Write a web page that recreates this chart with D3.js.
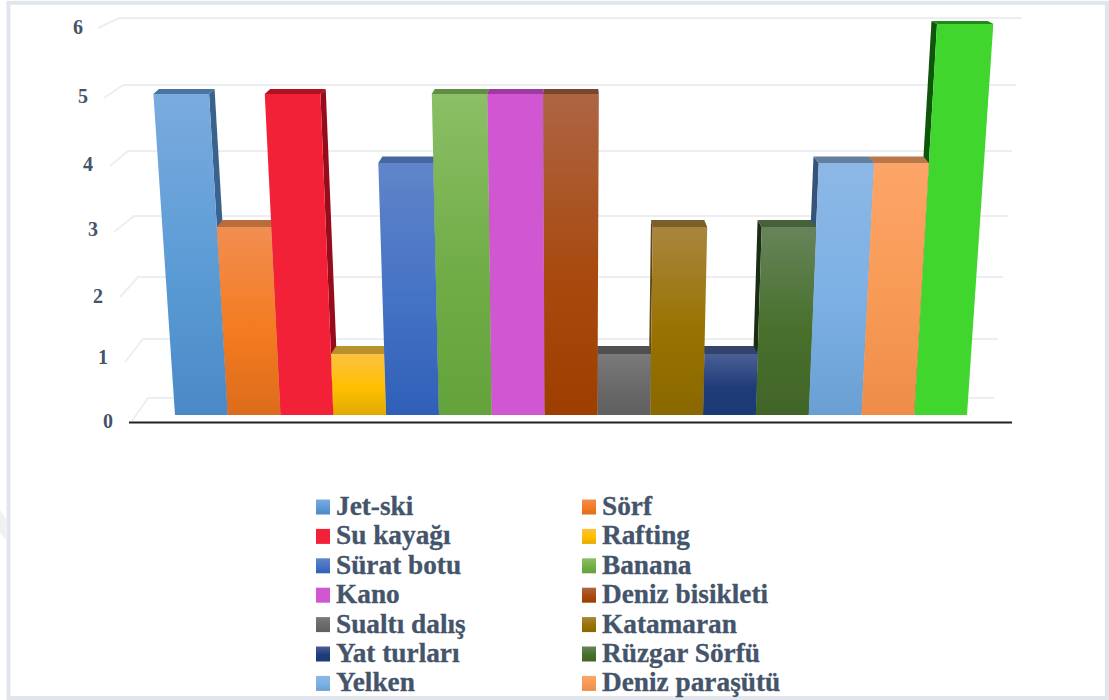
<!DOCTYPE html>
<html>
<head>
<meta charset="utf-8">
<script src="https://cdn.jsdelivr.net/npm/d3@7"></script>
<style>
  html, body { margin: 0; padding: 0; background: #fff; overflow: hidden; }
  svg { display: block; }
  text { font-family: "Liberation Serif", serif; font-weight: bold; fill: #44546a; }
</style>
</head>
<body>
<div id="app"></div>
<script>

// Data
const categories = ['Jet-ski', 'Sörf', 'Su kayağı', 'Rafting', 'Sürat botu', 'Banana', 'Kano',
  'Deniz bisikleti', 'Sualtı dalış', 'Katamaran', 'Yat turları', 'Rüzgar Sörfü', 'Yelken', 'Deniz paraşütü', '']
const values = [5, 3, 5, 1, 4, 5, 5, 5, 1, 3, 1, 3, 4, 4, 6]
const tickValues = [0, 1, 2, 3, 4, 5, 6]

// gradient of each bar front: top, middle, bottom
const frontColors = [
  ['#7aabdf', '#5b9bd5', '#4a89c6'], ['#f18e52', '#f47b20', '#dc6c1c'], ['#f32138', '#f32138', '#f32138'],
  ['#fdc040', '#ffc000', '#e2aa00'], ['#6085c9', '#4472c4', '#2f5fb8'], ['#8cbf66', '#70ad47', '#64a23c'],
  ['#d056d2', '#d056d2', '#d056d2'], ['#ad6544', '#a94a10', '#9e3e00'], ['#7a7a7a', '#696969', '#606060'],
  ['#a9853f', '#997300', '#8a6800'], ['#4a5f94', '#1f3c78', '#1b3a76'], ['#66845a', '#48702c', '#416528'],
  ['#8cb8e6', '#7cb0e4', '#699fd2'], ['#fda468', '#f79a55', '#ee8c48'], ['#41d62d', '#41d62d', '#41d62d'],
]
const topColors = ['#4a74a0', '#b96c3c', '#b01224', '#b8902c', '#46679f', '#5f8f42', '#a03aa0',
  '#7a4630', '#505050', '#7a6028', '#34436e', '#46603a', '#627f9f', '#b9774c', '#1f8a18']
const sideColors = ['#39628c', '#a85c30', '#960c1a', '#a07a20', '#3b5a9a', '#4f7a34', '#8a308a',
  '#6a3a20', '#3a3a3a', '#5e481a', '#1c2c50', '#1a2c14', '#36537a', '#a06a40', '#0d560a']

//
// Constants
//
const width = 1109
const height = 700
const centerX = 571
const legendCols = [316, 582]
const legendRows = d3.range(7).map(i => 499.5 + i * 29.4)

//
// Scales
//
const xBase = d3.scaleBand().domain(d3.range(values.length)).range([175, 967])
// value axis is foreshortened, so these are read per tick from the picture
const yFront = d3.scaleLinear().domain(tickValues).range([415, 354, 291, 227, 163, 94, 24])
const yBack = d3.scaleLinear().domain(tickValues).range([398, 339, 277, 216, 151, 85, 18])
const topDepth = d3.scaleLinear().domain(tickValues).range([9, 8, 7.5, 7, 6.5, 5, 3])
const gridLeft = d3.scaleLinear().domain(tickValues).range([148, 143, 138, 134, 128, 123, 119])
const gridRight = d3.scaleLinear().domain(tickValues).range([994, 998, 1003, 1008, 1012, 1016, 1022])
const tickFrontX = d3.scaleLinear().domain(tickValues).range([132, 125, 120, 114, 110, 104, 98])
const tickFrontY = d3.scaleLinear().domain(tickValues).range([421, 362, 297, 232, 166, 98, 28])
const labelX = d3.scaleLinear().domain(tickValues).range([108, 103, 98, 93, 88, 83, 78])
const labelY = d3.scaleLinear().domain(tickValues).range([428, 364, 303, 236, 171, 103, 34])

// bars lean outwards the higher they are
const lean = (x, y) => centerX + (x - centerX) * (1 + (415 - y) * 0.00017)
// how far the back of a bar moves towards the centre
const shift = x => Math.sign(centerX - x) * Math.min(5.5, Math.abs(x - centerX) / 45)
const poly = pts => 'M' + pts.map(p => p.join(',')).join('L') + 'Z'

//
// Chart
//
const svg = d3.select('#app').append('svg')
  .attr('width', width)
  .attr('height', height)

const defs = svg.append('defs')
frontColors.forEach((c, i) => {
  const g = defs.append('linearGradient').attr('id', `front${i}`)
    .attr('x1', 0).attr('y1', 0).attr('x2', 0).attr('y2', 1)
  g.selectAll('stop').data(c).join('stop')
    .attr('offset', (d, j) => [0, 0.55, 1][j])
    .attr('stop-color', d => d)
})

// page frame
svg.append('path')
  .attr('d', poly([[0, 510], [6, 518], [6, 540], [0, 533]]))
  .attr('fill', '#f1f1f1')
svg.append('rect')
  .attr('x', 8.5).attr('y', 2.8)
  .attr('width', 1098.5).attr('height', 695.2)
  .attr('fill', '#fff')
  .attr('stroke', '#e1e6ec')
  .attr('stroke-width', 4)

// grid on the back wall and floor
const grid = svg.append('g')
  .attr('fill', 'none')
  .attr('stroke', '#eceef1')
  .attr('stroke-width', 2)
grid.selectAll('path').data(tickValues).join('path')
  .attr('d', d => `M${tickFrontX(d)},${tickFrontY(d)}L${gridLeft(d)},${yBack(d)}L${gridRight(d)},${yBack(d)}`)

// tick labels
svg.append('g').selectAll('text').data(tickValues).join('text')
  .attr('x', d => labelX(d))
  .attr('y', d => labelY(d))
  .attr('text-anchor', 'middle')
  .attr('font-size', 20)
  .text(d => d)

// outer bars first so the inner ones cover them
const order = d3.range(values.length).sort((a, b) =>
  Math.abs(xBase(b) + xBase.bandwidth() / 2 - centerX) - Math.abs(xBase(a) + xBase.bandwidth() / 2 - centerX))

const bars = svg.append('g').selectAll('g').data(order).join('g')

bars.each(function(i) {
  const g = d3.select(this)
  const x0 = xBase(i)
  const x1 = x0 + xBase.bandwidth()
  const yTop = yFront(values[i])
  const yBase = yFront(0)
  const yRear = yTop - topDepth(values[i])
  const s0 = shift(x0)
  const s1 = shift(x1)

  // side face, on the side that looks at the centre
  const sideX = x1 < centerX ? x1 : x0
  if (x1 < centerX || x0 > centerX) {
    const s = shift(sideX)
    g.append('path')
      .attr('fill', sideColors[i])
      .attr('d', poly([[lean(sideX, yTop), yTop], [lean(sideX, yTop) + s, yRear],
        [sideX + s, yBase - topDepth(0)], [sideX, yBase]]))
  }
  g.append('path')
    .attr('fill', topColors[i])
    .attr('d', poly([[lean(x0, yTop), yTop], [lean(x0, yTop) + s0, yRear],
      [lean(x1, yTop) + s1, yRear], [lean(x1, yTop), yTop]]))
  g.append('path')
    .attr('fill', `url(#front${i})`)
    .attr('d', poly([[lean(x0, yTop), yTop], [lean(x1, yTop), yTop], [x1, yBase], [x0, yBase]]))
})

// axis line
svg.append('line')
  .attr('x1', 129).attr('x2', 1012)
  .attr('y1', 422.5).attr('y2', 422.5)
  .attr('stroke', '#222')
  .attr('stroke-width', 2)

// legend
const legend = svg.append('g').selectAll('g')
  .data(categories.filter(c => c !== ''))
  .join('g')
  .attr('transform', (d, i) => `translate(${legendCols[i % 2]}, ${legendRows[Math.floor(i / 2)]})`)

legend.append('rect')
  .attr('width', 14)
  .attr('height', 15)
  .attr('fill', (d, i) => `url(#front${i})`)

legend.append('text')
  .attr('x', 20)
  .attr('y', 15.5)
  .attr('font-size', 27.3)
  .attr('stroke', '#44546a')
  .attr('stroke-width', 0.3)
  .text(d => d)

</script>
</body>
</html>
